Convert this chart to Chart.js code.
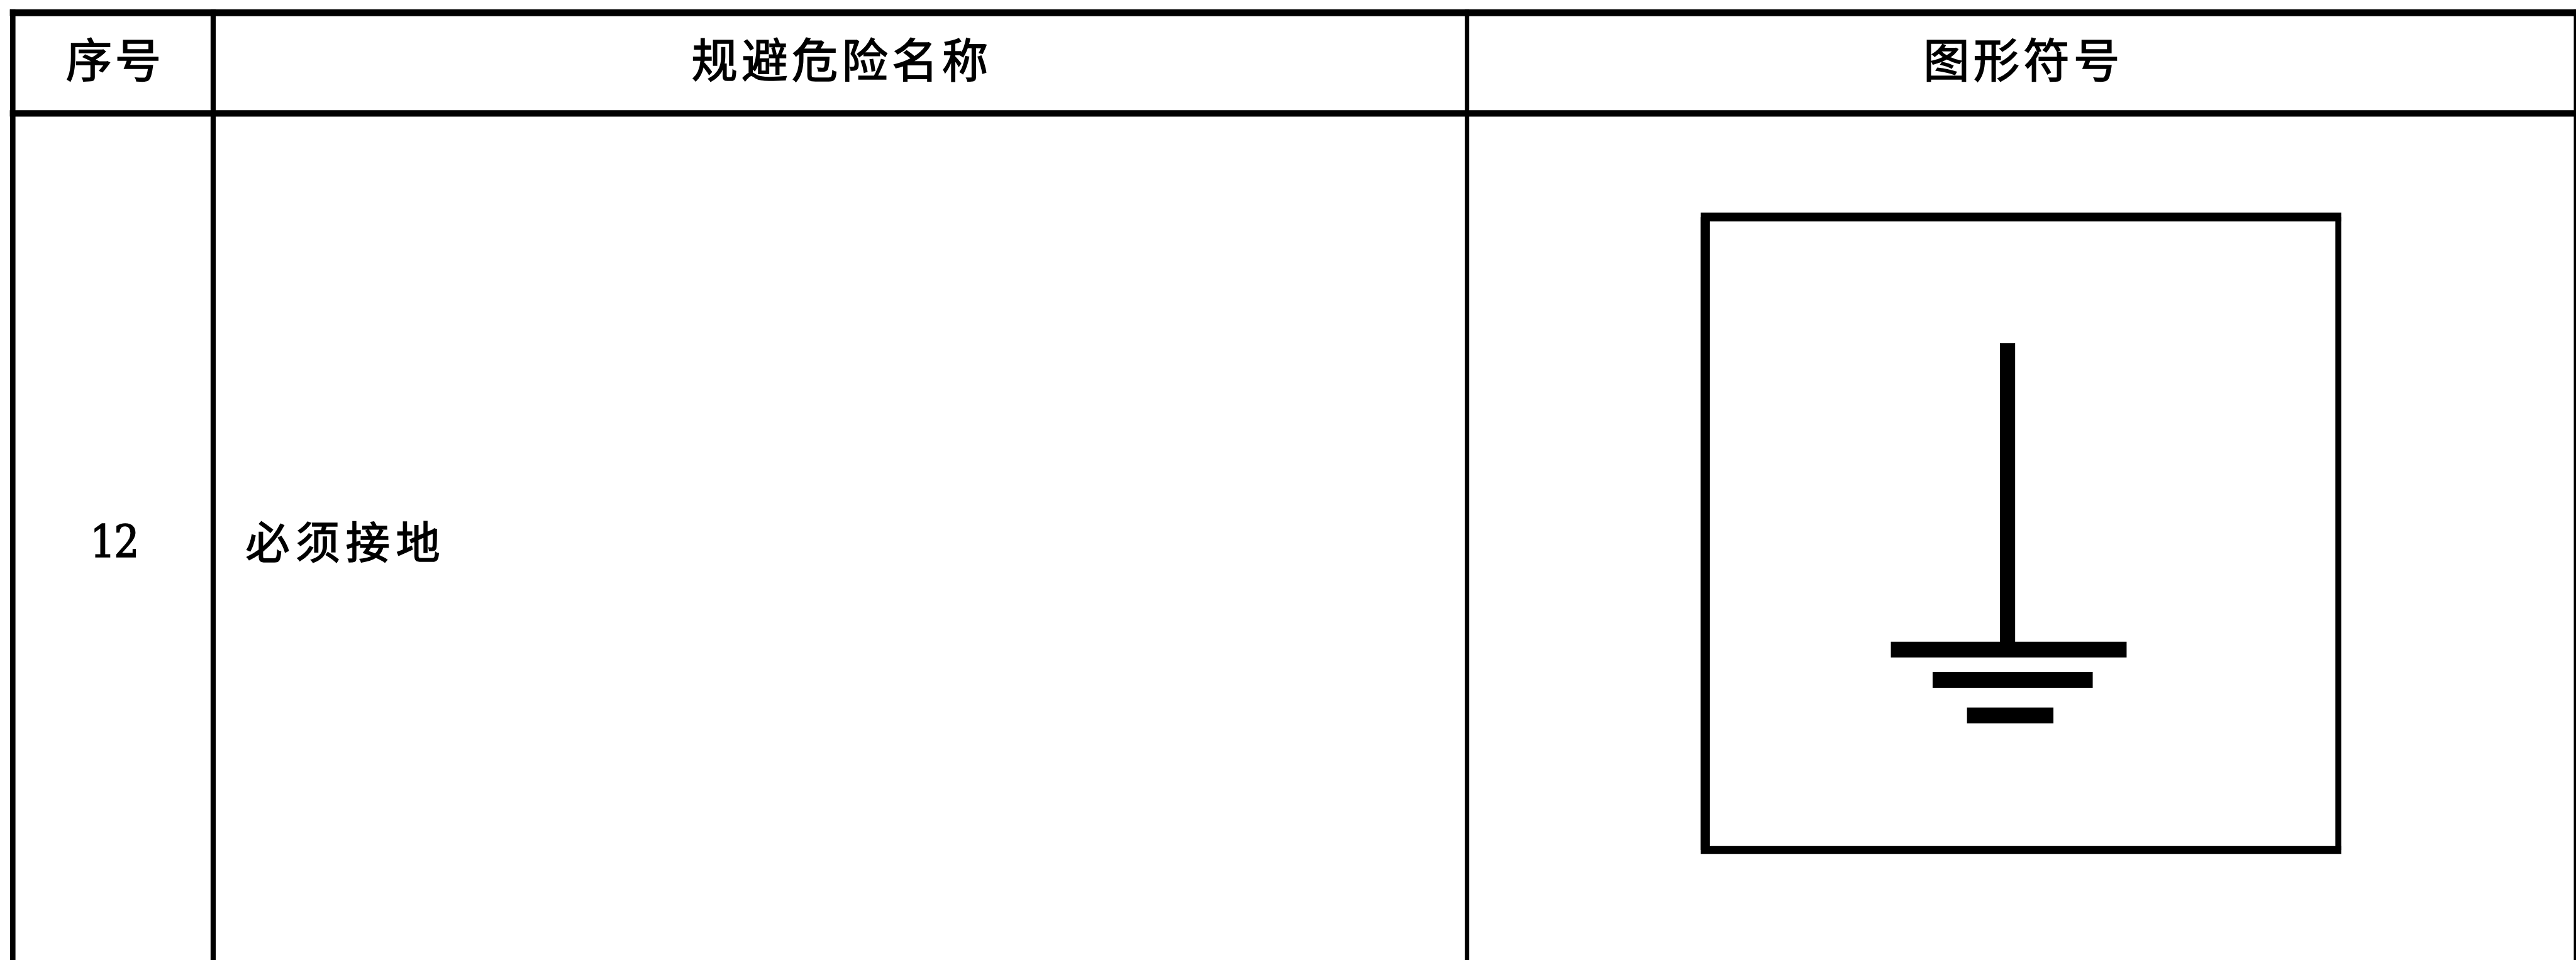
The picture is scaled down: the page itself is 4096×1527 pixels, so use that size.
<!DOCTYPE html>
<html lang="zh-CN">
<head>
    <meta charset="UTF-8">
    <title>必须接地</title>
    <script src="https://cdn.jsdelivr.net/npm/chart.js"></script>
    <style>
        html, body { margin: 0; padding: 0; background: #fff; }
        .chart-container { position: relative; width: 4096px; height: 1527px; overflow: hidden; }
    </style>
</head>
<body>
    <div class="chart-container">
        <canvas id="signTable"></canvas>
    </div>

    <script>
        // --- DATA ---
        // all values, in its pixels
        const headers = ['序号', '规避危险名称', '图形符号'];
        const rowNumber = '12';
        const rowName = '必须接地';

        const columnLines = [26, 434, 2987, 5243];
        const headerLines = [26, 231];
        const tableBottom = 1955;

        const boxLeftRight = [3472, 4761];
        const boxTopBottom = [442, 1731];

        const stemX = [4087.5, 4087.5];
        const stemY = [699, 1323];
        const groundBarLeft = [3850, 3935, 4005];
        const groundBarRight = [4330, 4261, 4181];
        const groundBarY = [1323, 1384.5, 1457];

        // --- STYLE ---
        const REF_W = 5245;
        const REF_H = 1955;
        const SCALE = 4096 / REF_W;
        const px = v => v * SCALE;

        function segment(xs, ys, width) {
            return {
                data: xs.map((x, i) => ({ x: x, y: ys[i] })),
                showLine: true,
                borderColor: '#000',
                borderWidth: px(width),
                borderCapStyle: 'butt',
                pointRadius: 0,
                tension: 0
            };
        }

        const lineDatasets = [
            // table rules
            segment([20, REF_W], [headerLines[0], headerLines[0]], 14),
            segment([20, REF_W], [headerLines[1], headerLines[1]], 13),
            segment([columnLines[0], columnLines[0]], [19, tableBottom], 11),
            segment([columnLines[1], columnLines[1]], [19, tableBottom], 10.5),
            segment([columnLines[2], columnLines[2]], [19, tableBottom], 9),
            segment([columnLines[3], columnLines[3]], [19, tableBottom], 5),
            // symbol box
            segment([boxLeftRight[0] - 9, boxLeftRight[1] + 6], [boxTopBottom[0], boxTopBottom[0]], 18),
            segment([boxLeftRight[0] - 9, boxLeftRight[1] + 6], [boxTopBottom[1], boxTopBottom[1]], 16),
            segment([boxLeftRight[0], boxLeftRight[0]], [boxTopBottom[0], boxTopBottom[1]], 19),
            segment([boxLeftRight[1], boxLeftRight[1]], [boxTopBottom[0], boxTopBottom[1]], 12),
            // earth symbol
            segment(stemX, stemY, 31)
        ];
        groundBarY.forEach((y, i) => {
            lineDatasets.push(segment([groundBarLeft[i], groundBarRight[i]], [y, y], 32));
        });

        // --- TEXT ---
        const CJK_FONT = '"Noto Sans CJK SC"';
        const textLabels = [
            { text: headers[0], x: 234, y: 122, size: 94, gap: 6, font: CJK_FONT, weight: 400, stroke: 1.6 },
            { text: headers[1], x: 1714, y: 122, size: 94, gap: 8, font: CJK_FONT, weight: 400, stroke: 1.6 },
            { text: headers[2], x: 4120, y: 122, size: 94, gap: 8, font: CJK_FONT, weight: 400, stroke: 1.6 },
            { text: rowNumber, x: 232, y: 1111, size: 90, gap: -3, font: '"DejaVu Serif Condensed", "DejaVu Serif"', weight: 400, stroke: 1.6 },
            { text: rowName, x: 704, y: 1104, size: 90, gap: 12, font: CJK_FONT, weight: 400, stroke: 1.6 }
        ];

        const tableText = {
            id: 'tableText',
            afterDatasetsDraw(chart) {
                const { ctx, scales } = chart;
                ctx.save();
                ctx.fillStyle = '#000';
                ctx.strokeStyle = '#000';
                ctx.textBaseline = 'middle';
                ctx.textAlign = 'center';
                textLabels.forEach(t => {
                    const x = scales.x.getPixelForValue(t.x);
                    const y = scales.y.getPixelForValue(t.y);
                    ctx.font = `${t.weight} ${px(t.size)}px ${t.font}`;
                    ctx.letterSpacing = `${px(t.gap)}px`;
                    ctx.lineWidth = t.stroke;
                    ctx.fillText(t.text, x, y);
                    ctx.strokeText(t.text, x, y);
                });
                ctx.restore();
            }
        };

        // --- CHART.JS ---
        new Chart(document.getElementById('signTable'), {
            type: 'scatter',
            data: { datasets: lineDatasets },
            plugins: [tableText],
            options: {
                responsive: true,
                maintainAspectRatio: false,
                animation: false,
                layout: { padding: 0 },
                scales: {
                    x: { type: 'linear', min: 0, max: REF_W, display: false },
                    y: { type: 'linear', min: 0, max: REF_H, reverse: true, display: false }
                },
                plugins: { legend: { display: false }, tooltip: { enabled: false } }
            }
        });
    </script>
</body>
</html>
